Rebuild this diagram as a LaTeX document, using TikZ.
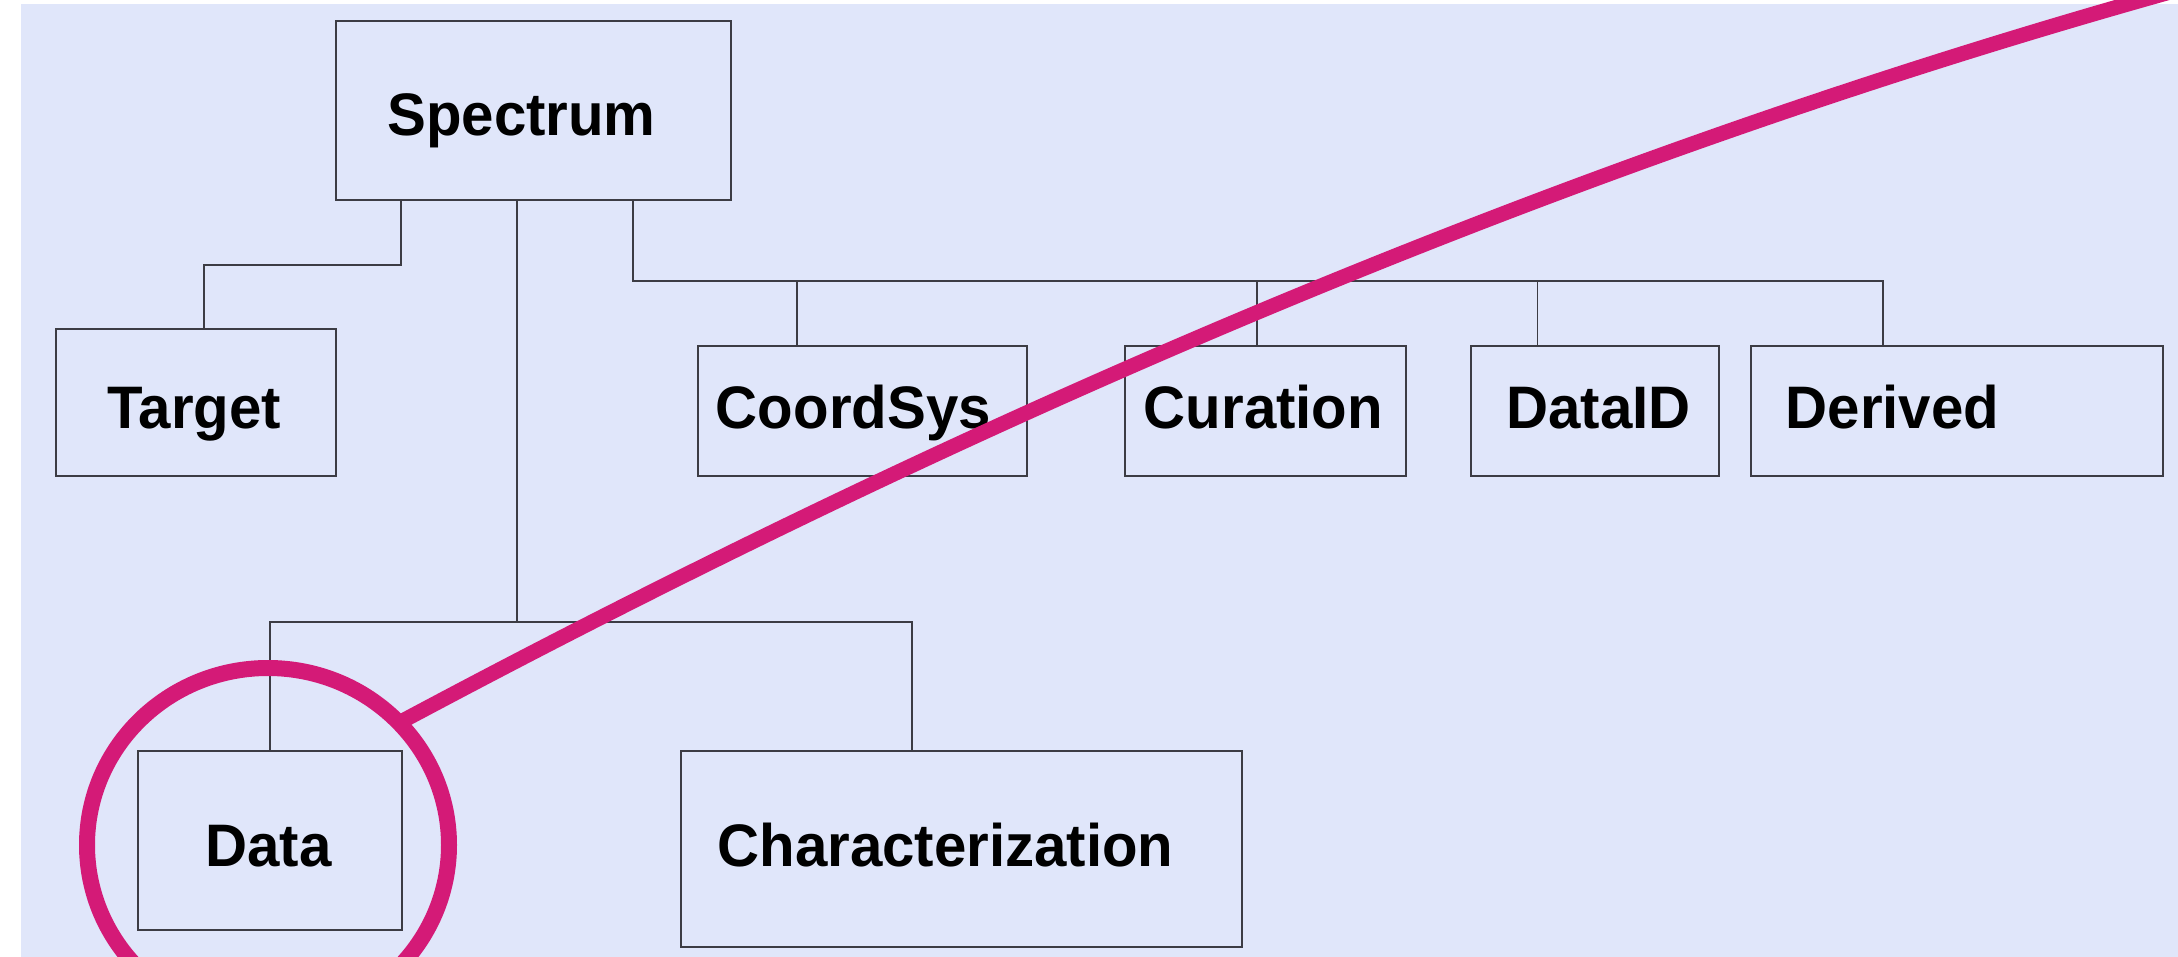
\documentclass[tikz,border=0pt]{standalone}
\usepackage{fontspec}
\setmainfont{Liberation Sans}[FakeStretch=0.97]
\usetikzlibrary{shapes.geometric}
\definecolor{bgblue}{HTML}{E0E6FA}
\definecolor{hlmag}{HTML}{D41A77}
\definecolor{lngray}{HTML}{3C3C44}
\begin{document}
\begin{tikzpicture}[x=1pt,y=-1pt,
  box/.style={draw=lngray, line width=2pt, rectangle, inner sep=0pt, outer sep=0pt},
  lbl/.style={anchor=base, inner sep=0pt, font=\fontsize{60}{72}\selectfont\bfseries},
  conn/.style={draw=lngray, line width=1.8pt},
  hlring/.style={draw=hlmag, line width=16pt, ellipse, inner sep=0pt, outer sep=0pt},
  hlline/.style={draw=hlmag, line width=15pt}]
\useasboundingbox (0,0) rectangle (2178,957);
\clip (0,0) rectangle (2178,957);
\fill[white] (0,0) rectangle (2178,957);
\fill[bgblue] (20.5,4) rectangle (2178,957);

% boxes
\node[box, minimum width=395pt, minimum height=179pt] (sp) at (533.5,110.5) {};
\node[box, minimum width=280pt, minimum height=147pt] (tg) at (195.6,402.5) {};
\node[box, minimum width=329.4pt, minimum height=130pt] (cs) at (862.3,411) {};
\node[box, minimum width=280.5pt, minimum height=130pt] (cu) at (1265.25,411) {};
\node[box, minimum width=247.6pt, minimum height=130pt] (di) at (1594.8,411) {};
\node[box, minimum width=412pt, minimum height=130pt] (dv) at (1957,411) {};
\node[box, minimum width=264pt, minimum height=179pt] (da) at (270,840.5) {};
\node[box, minimum width=560.5pt, minimum height=195.7pt] (ch) at (961.25,848.85) {};

% labels
\node[lbl] (sp-t) at (521.5,136) {Spectrum};
\node[lbl] (tg-t) at (194.5,428) {Target};
\node[lbl] (cs-t) at (853.3,428) {CoordSys};
\node[lbl] (cu-t) at (1263.4,428) {Curation};
\node[lbl] (di-t) at (1598.4,428) {DataID};
\node[lbl] (dv-t) at (1892.5,428) {Derived};
\node[lbl] (da-t) at (268.6,866.7) {Data};
\node[lbl] (ch-t) at (945.5,866.7) {Characterization};

% connectors
\coordinate (tgbend) at (401,265);
\coordinate (tgdrop) at (204,265);
\draw[conn] (sp.south -| tgbend) -- (tgbend) -- (tgdrop) -- (tgdrop |- tg.north);

\coordinate (mb) at (517,622);
\coordinate (mbL) at (270,622);
\coordinate (mbR) at (912,622);
\draw[conn] (sp.south -| mb) -- (mb);
\draw[conn] (mbL |- da.north) -- (mbL) -- (mbR) -- (mbR |- ch.north);

\coordinate (rb) at (633,281);
\coordinate (rbE) at (1883,281);
\coordinate (d1) at (797,281);
\coordinate (d2) at (1257,281);
\coordinate (d3) at (1537.5,281);
\draw[conn] (sp.south -| rb) -- (rb) -- (rbE) -- (rbE |- dv.north);
\draw[conn] (d1) -- (d1 |- cs.north);
\draw[conn] (d2) -- (d2 |- cu.north);
\draw[conn] (d3) -- (d3 |- di.north);

% highlight
\node[hlring, minimum width=362pt, minimum height=354pt] (hl) at (268,845) {};
\coordinate (tip) at (2142,0);
\coordinate (beyond) at (2202,-17);
\draw[hlline] (hl.43.7) .. controls (982,411) and (1562,165) .. (tip) -- (beyond);
\end{tikzpicture}
\end{document}
